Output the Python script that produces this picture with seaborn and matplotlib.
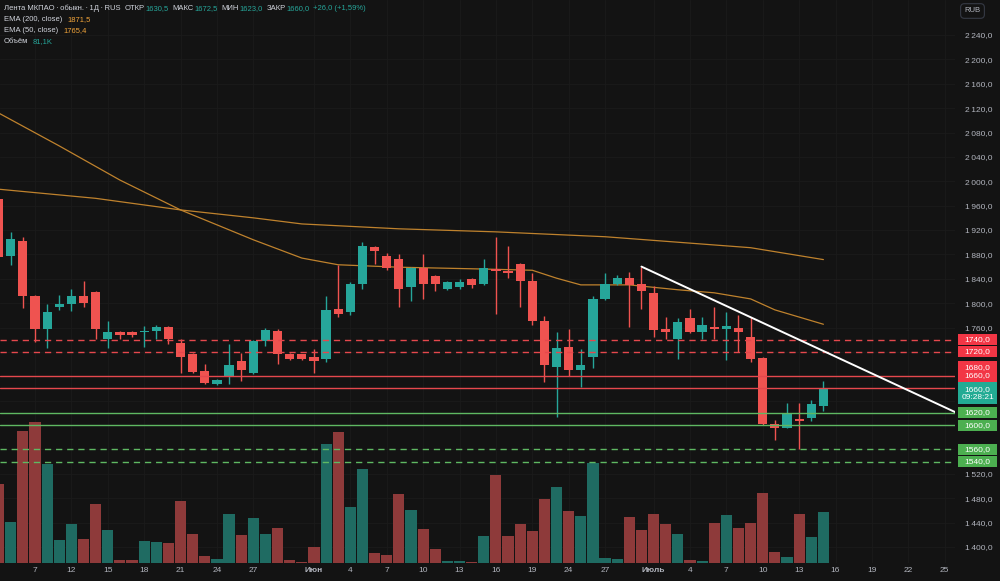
import numpy as np
import pandas as pd
import seaborn as sns
import matplotlib.pyplot as plt
from matplotlib.patches import Rectangle
from matplotlib.transforms import blended_transform_factory

# daily bars, index 0 = 7 May (one bar per calendar day)
bar_idx = list(range(-3, 66))
opens = [1971, 1877, 1902, 1812, 1758, 1794, 1799, 1811, 1818, 1741,
         1752, 1752, 1753, 1755, 1761, 1734, 1717, 1688, 1667, 1679,
         1705, 1685, 1738, 1755, 1716, 1716, 1711, 1708, 1790, 1785,
         1831, 1892, 1878, 1873, 1826, 1857, 1845, 1823, 1827, 1839,
         1831, 1856, 1853, 1864, 1837, 1771, 1696, 1728, 1690, 1711,
         1807, 1832, 1842, 1832, 1817, 1758, 1742, 1775, 1752, 1761,
         1758, 1760, 1745, 1710, 1601, 1596, 1610, 1611, 1630.5]
highs = [1975, 1916, 1909, 1814, 1799, 1813, 1824, 1836, 1820, 1770,
         1754, 1754, 1763, 1764, 1763, 1741, 1719, 1701, 1676, 1733,
         1718, 1740, 1760, 1757, 1718, 1717, 1724, 1812, 1863, 1834,
         1900, 1893, 1882, 1881, 1859, 1881, 1846, 1836, 1840, 1841,
         1872, 1908, 1893, 1866, 1849, 1779, 1752, 1758, 1725, 1811,
         1850, 1846, 1851, 1860, 1828, 1777, 1776, 1790, 1777, 1793,
         1786, 1781, 1777, 1711, 1608, 1637, 1636, 1641, 1672.5]
lows = [1872, 1863, 1792, 1737, 1726, 1788, 1787, 1793, 1742, 1727,
        1741, 1744, 1728, 1742, 1733, 1685, 1686, 1667, 1665, 1667,
        1673, 1684, 1729, 1701, 1706, 1707, 1686, 1703, 1778, 1781,
        1823, 1865, 1854, 1793, 1804, 1807, 1820, 1822, 1823, 1825,
        1830, 1782, 1842, 1793, 1765, 1671, 1613, 1681, 1662, 1693,
        1806, 1830, 1761, 1790, 1745, 1742, 1708, 1751, 1742, 1741,
        1706, 1720, 1703, 1600, 1576, 1595, 1561, 1607, 1623]
closes = [1876, 1906, 1811, 1758, 1786, 1799, 1811, 1801, 1758, 1752,
          1748, 1747, 1754, 1761, 1741, 1712, 1687, 1669, 1674, 1699,
          1690, 1738, 1756, 1716, 1708, 1708, 1705, 1789, 1782, 1831,
          1893, 1885, 1857, 1823, 1857, 1832, 1831, 1835, 1835, 1830,
          1858, 1853, 1850, 1836, 1771, 1699, 1727, 1690, 1699, 1807,
          1832, 1842, 1830, 1820, 1756, 1752, 1769, 1752, 1764, 1758,
          1763, 1753, 1708, 1602, 1596, 1618, 1606, 1634, 1660]
volume_k = [127, 65, 212, 226, 159, 37, 63, 38.5, 95, 53,
            5, 4.3, 35, 34, 31.5, 100, 46, 11, 6.4, 79,
            45, 72, 46.5, 56, 4.3, 2.1, 25.6, 191, 210, 89,
            151, 16.6, 12.8, 110.6, 85, 54.5, 22.4, 3.2, 3.7, 2.1,
            42.7, 141.6, 42.7, 63, 50.8, 102.6, 121.8, 83.9, 74.8, 160.3,
            8, 6.4, 74.3, 52.9, 78, 63, 46.5, 4.3, 3.2, 64.1,
            77, 56.6, 63.6, 112.2, 18.2, 9.1, 79, 41.7, 81.1]

ema200_idx = [-3, 5, 12, 18, 22, 30, 38, 47, 55, 59, 65]
ema200_val = [1987, 1972, 1953, 1940, 1930, 1922, 1917, 1909, 1897, 1891, 1871.5]
ema50_idx = [-3, 2, 7, 12, 18, 22, 25, 30, 37, 41, 43, 45, 49, 53, 56, 59, 61, 65]
ema50_val = [2112, 2058, 2002, 1953, 1904, 1874, 1863, 1859, 1856, 1854,
             1841, 1830, 1830, 1822, 1817, 1807, 1789, 1765.4]

trend_idx = [50, 76]
trend_val = [1860, 1620]

res_dashed = [1740, 1720]
res_solid = [1680, 1660]
sup_solid = [1620, 1600]
sup_dashed = [1560, 1540]

xtick_pos = [0, 3, 6, 9, 12, 15, 18, 23, 26, 29, 32, 35, 38, 41, 44, 47,
             51, 54, 57, 60, 63, 66, 69, 72, 75]
xtick_lab = ['7', '12', '15', '18', '21', '24', '27', 'Июн', '4', '7', '10', '13',
             '16', '19', '24', '27', 'Июль', '4', '7', '10', '13', '16', '19', '22', '25']
clock = '09:28:21'

BG = '#131313'
GRID = '#1b1b1b'
TXT = '#b2b5be'
WHITE = '#d1d4dc'
UP = '#26a69a'
DOWN = '#ef5350'
VOL_UP = '#1f6b62'
VOL_DOWN = '#8e3a3a'
EMA_C = '#bf822d'
RED_LVL = '#e5484d'
GREEN_LVL = '#5fb862'

df = pd.DataFrame(dict(idx=bar_idx, open=opens, high=highs, low=lows,
                       close=closes, vol=volume_k))
df['up'] = df.close >= df.open
cols = np.where(df.up, UP, DOWN)
vcols = np.where(df.up, VOL_UP, VOL_DOWN)

sns.set_theme(style='dark')
plt.rcParams['font.family'] = ['Liberation Sans', 'DejaVu Sans']

fig = plt.figure(figsize=(10, 5.81), dpi=100, facecolor=BG)
rect = [0, 18 / 581, 955 / 1000, 563 / 581]
axv = fig.add_axes(rect)
ax = fig.add_axes(rect)

XL = (-2.885, 75.85)
YL = (1373.7, 2297.4)
VMAX = 902
PX = (YL[1] - YL[0]) / 563
yt = np.arange(1400, 2241, 40)

# volume pane underneath, also carries the grid
axv.set_facecolor(BG)
axv.bar(df.idx, df.vol, width=0.92, color=vcols, linewidth=0, zorder=2)
axv.set_xlim(*XL)
axv.set_ylim(0, VMAX)
axv.set_xticks(xtick_pos)
axv.set_yticks((yt - YL[0]) / (YL[1] - YL[0]) * VMAX)
axv.tick_params(length=0, labelbottom=False, labelleft=False)
axv.grid(True, color=GRID, lw=0.6, zorder=0)
axv.set_axisbelow(True)
for s in axv.spines.values():
    s.set_visible(False)

# price
ax.set_facecolor('none')
ax.grid(False)
ax.vlines(df.idx, df.low, df.high, colors=cols, lw=1, zorder=3)
body = (df.close - df.open).abs().clip(lower=1.3)
ax.bar(df.idx, body, bottom=df[['open', 'close']].min(axis=1), width=0.76,
       color=cols, linewidth=0, zorder=3)

sns.lineplot(x=ema200_idx, y=ema200_val, ax=ax, color=EMA_C, lw=0.9, zorder=2)
sns.lineplot(x=ema50_idx, y=ema50_val, ax=ax, color=EMA_C, lw=0.9, zorder=2)

for p in res_dashed:
    ax.axhline(p, color=RED_LVL, lw=1, ls=(0, (4.5, 3.5)), zorder=4)
for p in res_solid:
    ax.axhline(p, color=RED_LVL, lw=1, zorder=4)
for p in sup_solid:
    ax.axhline(p, color=GREEN_LVL, lw=1, zorder=4)
for p in sup_dashed:
    ax.axhline(p, color=GREEN_LVL, lw=1, ls=(0, (4.5, 3.5)), zorder=4)

sns.lineplot(x=trend_idx, y=trend_val, ax=ax, color='white', lw=1.4, zorder=5)

ax.set_xlim(*XL)
ax.set_ylim(*YL)
ax.set_xlabel('')
ax.set_ylabel('')
for s in ax.spines.values():
    s.set_visible(False)

ax.set_xticks(xtick_pos, xtick_lab)
ax.tick_params(axis='x', length=0, pad=3, labelsize=6, colors=TXT)
for t in ax.get_xticklabels():
    if not t.get_text().isdigit():
        t.set_fontweight('bold')

hidden = set(res_dashed + res_solid + sup_solid + sup_dashed + [1640])
ylab = ['' if v in hidden else f'{v:,}'.replace(',', '\u2009') + ',0' for v in yt]
ax.yaxis.tick_right()
ax.set_yticks(yt, ylab)
ax.tick_params(axis='y', length=0, pad=7, labelsize=6, colors=TXT)


def fmt(v):
    return f'{v:.1f}'.replace('.', ',')


# price labels on the scale
tr = blended_transform_factory(ax.transAxes, ax.transData)
bx0 = 1 + 3 / 955
bw = 39 / 955


def price_box(center, h_px, fc, text):
    h = h_px * PX
    ax.add_patch(Rectangle((bx0, center - h / 2), bw, h, transform=tr, fc=fc,
                           ec='none', clip_on=False, zorder=6))
    ax.text(bx0 + bw / 2, center, text, transform=tr, ha='center', va='center',
            fontsize=6, color='white', linespacing=1.2, clip_on=False, zorder=7)


for p in res_dashed:
    price_box(p, 11, '#f23645', fmt(p))
price_box(np.mean(res_solid) + 11.3 * PX, 21, '#f23645',
          '\n'.join(fmt(p) for p in res_solid))
price_box(closes[-1] - 4.6 * PX, 22, '#22ab94', fmt(closes[-1]) + '\n' + clock)
for p in sup_solid + sup_dashed:
    price_box(p, 11, '#4caf50', fmt(p))

fig.text(0.9725, 1 - 11 / 581, 'RUB', ha='center', va='center', fontsize=5.5,
         color=TXT, bbox=dict(boxstyle='round,pad=0.5', fc=BG, ec='#363a45', lw=0.8))

# legend rows at top left
chg = closes[-1] - closes[-2]
pct = chg / closes[-2] * 100
rows = [
    [('Лента МКПАО\u2009·\u2009обыкн.\u2009·\u20091Д\u2009·\u2009RUS', WHITE, 0),
     ('ОТКР', WHITE, 3), (fmt(opens[-1]), UP, 0.3), ('МАКС', WHITE, 3),
     (fmt(highs[-1]), UP, 0.3), ('МИН', WHITE, 3), (fmt(lows[-1]), UP, 0.3),
     ('ЗАКР', WHITE, 3), (fmt(closes[-1]), UP, 0.3),
     (f'+{fmt(chg)} (+{pct:.2f}%)'.replace('.', ','), UP, 2.5)],
    [('EMA (200, close)', WHITE, 0), (fmt(ema200_val[-1]), '#f0a33a', 4)],
    [('EMA (50, close)', WHITE, 0), (fmt(ema50_val[-1]), '#f0a33a', 4)],
    [('Объём', WHITE, 0), (fmt(volume_k[-1]) + 'K', UP, 3)],
]
for r, row in enumerate(rows):
    last = None
    for s, c, gap in row:
        if last is None:
            last = fig.text(4 / 1000, 1 - (8 + 11.3 * r) / 581, s, color=c,
                            fontsize=5.5, ha='left', va='center')
        else:
            last = ax.annotate(s, xy=(1, 0), xycoords=last, xytext=(gap, 0),
                               textcoords='offset points', color=c, fontsize=5.5,
                               ha='left', va='bottom', annotation_clip=False)

fig.savefig('out.png', dpi=100, facecolor=BG)
